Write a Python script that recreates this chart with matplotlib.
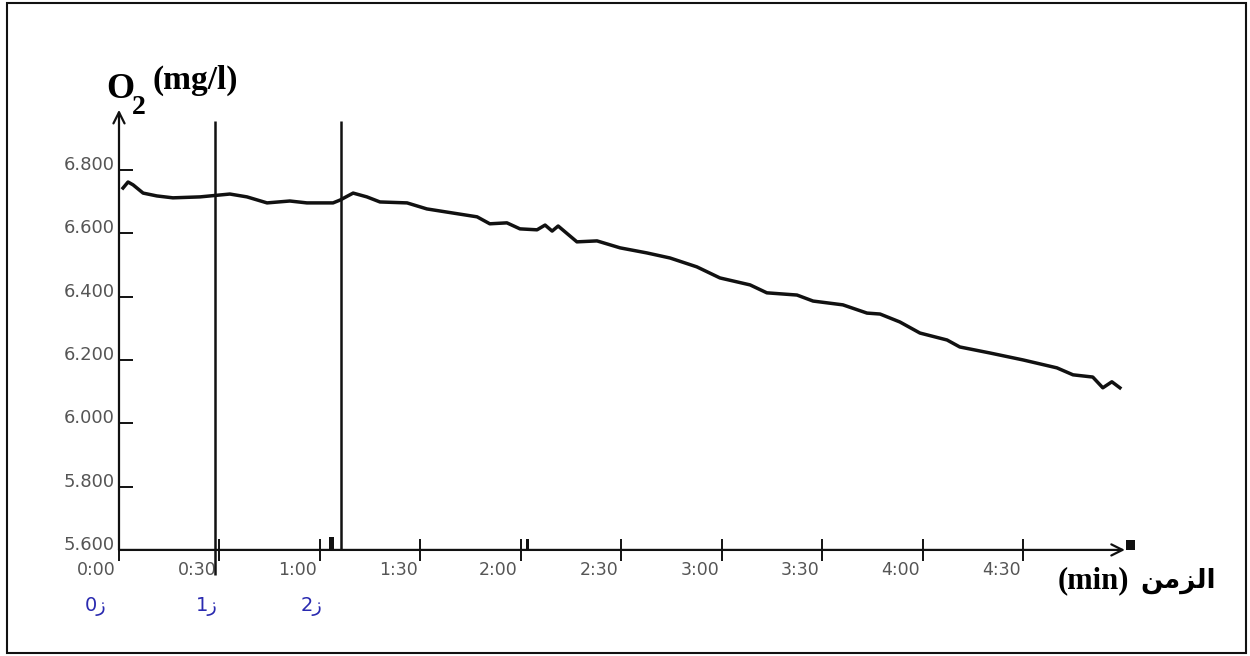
import matplotlib
matplotlib.use("Agg")
import matplotlib.pyplot as plt
from matplotlib.patches import Rectangle
from matplotlib.transforms import ScaledTranslation

# oxygen trace (time in s, O2 in mg/l)
time_s = [1.2, 2.7, 4.2, 7.2, 11.3, 16.1, 24.2, 33.1, 38.2, 44.2, 51.0, 56.1,
          63.9, 66.0, 69.9, 74.0, 77.9, 86.0, 91.9, 97.9, 106.9, 110.7, 115.8,
          119.7, 124.8, 127.2, 129.3, 131.1, 136.7, 142.7, 149.6, 157.6, 164.5,
          172.5, 179.4, 188.4, 193.4, 202.4, 207.2, 216.1, 223.3, 227.2, 233.1,
          239.1, 247.2, 251.0, 260.0, 269.9, 280.0, 284.8, 290.7, 293.7, 296.4,
          298.8]
o2_mgl = [6.743, 6.762, 6.753, 6.727, 6.718, 6.712, 6.715, 6.724, 6.715, 6.696,
          6.702, 6.696, 6.696, 6.705, 6.727, 6.715, 6.699, 6.696, 6.677, 6.667,
          6.652, 6.630, 6.633, 6.614, 6.611, 6.626, 6.607, 6.623, 6.573, 6.576,
          6.554, 6.538, 6.522, 6.494, 6.459, 6.437, 6.412, 6.405, 6.386, 6.374,
          6.348, 6.345, 6.320, 6.285, 6.263, 6.241, 6.222, 6.200, 6.175, 6.153,
          6.146, 6.112, 6.131, 6.112]

yticks = [5.6, 5.8, 6.0, 6.2, 6.4, 6.6, 6.8]
ytick_labels = ["5.600", "5.800", "6.000", "6.200", "6.400", "6.600", "6.800"]
xticks = [0, 30, 60, 90, 120, 150, 180, 210, 240, 270]
xtick_labels = ["0:00", "0:30", "1:00", "1:30", "2:00", "2:30", "3:00",
                "3:30", "4:00", "4:30"]

# times of the two injection markers (z1, z2)
marker_t = [28.7, 66.3]
stage_labels = ["0ز", "1ز", "2ز"]

# small black blips on the time axis
blip_t = [63.5, 122.0, 302.0]
blip_h = [0.04, 0.035, 0.03]

W, H = 1250, 656
fig = plt.figure(figsize=(W / 100, H / 100), dpi=100)


def fx(px):
    return px / W


def fy(py):
    return 1 - py / H


ax = fig.add_axes([fx(100), fy(580), fx(1140) - fx(100), fy(100) - fy(580)])
ax.set_xlim(-5.67, 304.8)
ax.set_ylim(5.505, 7.021)
ax.patch.set_alpha(0)

for s in ax.spines.values():
    s.set_visible(False)
ax.spines['left'].set_position(('data', 0))
ax.spines['bottom'].set_position(('data', 5.6))

ax.set_xticks(xticks, xtick_labels)
ax.set_yticks(yticks, ytick_labels)
ax.tick_params(axis='x', direction='inout', length=16, width=1.4, pad=0,
               labelsize=12.5, labelcolor='#555555', color='#111111')
ax.tick_params(axis='y', direction='in', length=10, width=1.4, pad=3,
               labelsize=13, labelcolor='#555555', color='#111111')
for lab in ax.get_xticklabels():
    lab.set_horizontalalignment('right')
    lab.set_transform(lab.get_transform() + ScaledTranslation(-0.03, 0, fig.dpi_scale_trans))
for lab in ax.get_yticklabels():
    lab.set_transform(lab.get_transform() + ScaledTranslation(0, 0.07, fig.dpi_scale_trans))

arrow = dict(arrowstyle='->', lw=1.6, color='#111111', shrinkA=0, shrinkB=0,
             mutation_scale=20)
ax.annotate('', xy=(0, 6.99), xytext=(0, 5.6), arrowprops=arrow)
ax.annotate('', xy=(300.3, 5.6), xytext=(0, 5.6), arrowprops=arrow)

ax.vlines(marker_t[0], 5.521, 6.955, color='#111111', lw=1.8)
ax.vlines(marker_t[1], 5.6, 6.955, color='#111111', lw=1.8)
ax.bar(blip_t, blip_h, width=[1.5, 1.0, 2.5], bottom=5.6, color='#111111')

ax.plot(time_s, o2_mgl, color='#111111', lw=2.5, solid_joinstyle='round')

# axis titles
serif = "Liberation Serif"
fig.text(fx(106), fy(98), "O", family=serif, weight='bold', fontsize=26, va='baseline')
fig.text(fx(132), fy(114), "2", family=serif, weight='bold', fontsize=20, va='baseline')
fig.text(fx(153), fy(89), "(mg/l)", family=serif, weight='bold', fontsize=24, va='baseline')
fig.text(fx(1058), fy(588), "(min)", family=serif, weight='bold', fontsize=22, va='baseline')
fig.text(fx(1140), fy(588), "ﻦﻣﺰﻟﺍ", family="DejaVu Sans", weight='bold', fontsize=19,
         va='baseline')

for cx, lab in zip([96, 207, 312], stage_labels):
    fig.text(fx(cx), fy(607), lab, family="DejaVu Sans", fontsize=14,
             color='#2a2ab0', ha='center', va='center')

fig.patches.append(Rectangle((fx(7), fy(653)), fx(1246) - fx(7), fy(3) - fy(653),
                             transform=fig.transFigure, fill=False, lw=1.5,
                             ec='#111111'))

fig.savefig("out.png", dpi=100, facecolor='white')
